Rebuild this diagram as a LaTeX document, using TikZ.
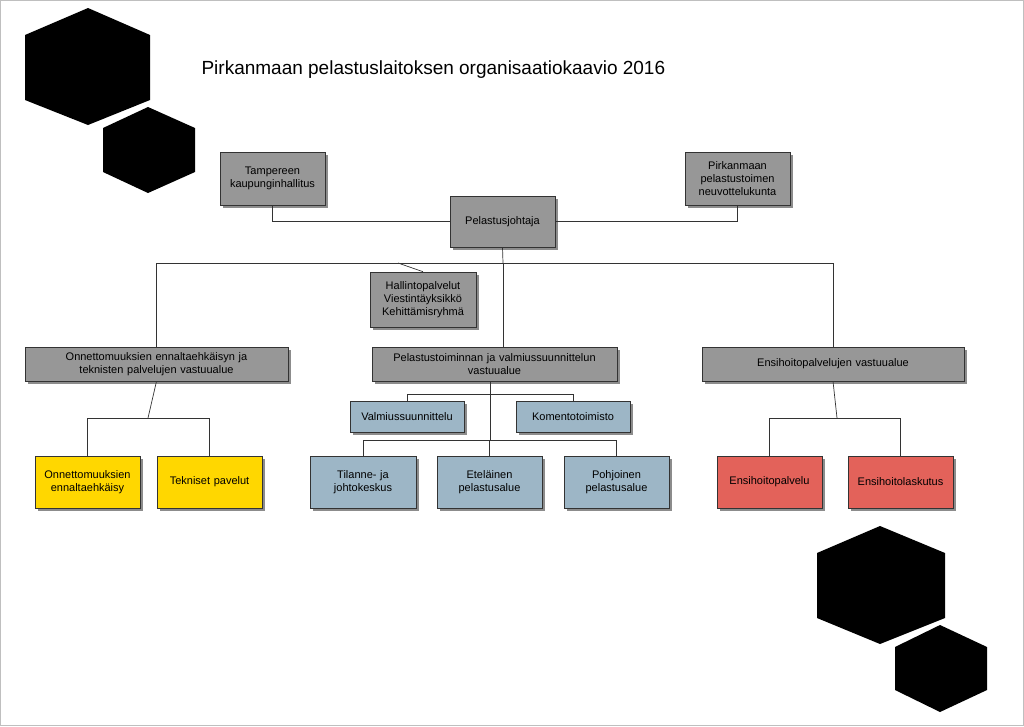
\documentclass[tikz,border=0pt]{standalone}
\usepackage{fontspec}
\setmainfont{Liberation Sans}
\usetikzlibrary{shadows}
\definecolor{gbox}{HTML}{979797}
\definecolor{bbox}{HTML}{9DB6C6}
\definecolor{ybox}{HTML}{FFD700}
\definecolor{rbox}{HTML}{E3625A}
\begin{document}
\begin{tikzpicture}[x=1pt,y=-1pt,
  bx/.style={draw=black!80,line width=0.6pt,align=center,font=\fontsize{11}{13}\selectfont,
    drop shadow={shadow xshift=3pt,shadow yshift=-3pt,fill=black!45,opacity=1},inner sep=2pt},
  ln/.style={line width=0.7pt,black!80}]
\path[use as bounding box,draw=black!25,line width=1pt] (0.5,0.5) rectangle (1023.5,725.5);
\fill[black] (88,8)--(150,35)--(150,100)--(88,125)--(25,100)--(25,35)--cycle;
\fill[black] (148,107)--(195,128)--(195,172)--(148,193)--(103,172)--(103,128)--cycle;
\fill[black] (880,526)--(945,553)--(945,618)--(880,644)--(817,618)--(817,553)--cycle;
\fill[black] (940,625)--(987,647)--(987,690)--(940,712)--(895,690)--(895,647)--cycle;
\node[anchor=west,font=\fontsize{19}{22}\selectfont] (title) at (198,70) {Pirkanmaan pelastuslaitoksen organisaatiokaavio 2016};
\newcommand{\bx}[7]{\node[bx,fill=#2,minimum width=#5-#3,minimum height=#6-#4,text width=#5-#3-6] (#1) at ({(#3+#5)/2},{(#4+#6)/2}) {#7};}
\bx{tku}{gbox}{220}{152}{325}{205}{Tampereen\\kaupunginhallitus}
\bx{pnk}{gbox}{685}{152}{790}{205}{Pirkanmaan\\pelastustoimen\\neuvottelukunta}
\bx{pj}{gbox}{450}{196}{555}{247}{Pelastusjohtaja}
\bx{hal}{gbox}{370}{272}{476}{327}{Hallintopalvelut\\Viestintäyksikkö\\Kehittämisryhmä}
\bx{onn}{gbox}{25}{347}{288}{381}{Onnettomuuksien ennaltaehkäisyn ja\\teknisten palvelujen vastuualue}
\bx{pel}{gbox}{372}{347}{617}{381}{Pelastustoiminnan ja valmiussuunnittelun\\vastuualue}
\bx{ens}{gbox}{702}{347}{964}{381}{Ensihoitopalvelujen vastuualue}
\bx{val}{bbox}{350}{401}{464}{432}{Valmiussuunnittelu}
\bx{kom}{bbox}{516}{401}{630}{432}{Komentotoimisto}
\bx{til}{bbox}{310}{456}{416}{508}{Tilanne- ja\\johtokeskus}
\bx{ete}{bbox}{437}{456}{542}{508}{Eteläinen\\pelastusalue}
\bx{poh}{bbox}{564}{456}{669}{508}{Pohjoinen\\pelastusalue}
\bx{oe}{ybox}{35}{456}{140}{508}{Onnettomuuksien\\ennaltaehkäisy}
\bx{tek}{ybox}{157}{456}{262}{508}{Tekniset pavelut}
\bx{eh}{rbox}{717}{456}{822}{508}{Ensihoitopalvelu}
\bx{el}{rbox}{848}{456}{953}{508}{Ensihoitolaskutus}
\draw[ln] (tku.south) |- (pj.west);
\draw[ln] (pnk.south) |- (pj.east);
\draw[ln] (pj.south) -- (503,263);
\draw[ln] (onn.north) |- (ens.north |- 0,263) -- (ens.north);
\draw[ln] (503,263) -- (503,347);
\draw[ln] (hal.north) -- (398,263);
\draw[ln] (onn.south) -- (148,418);
\draw[ln] (oe.north) |- (tek.north |- 0,418) -- (tek.north);
\draw[ln] (490,381) -- (490,440);
\draw[ln] (val.north) |- (kom.north |- 0,394) -- (kom.north);
\draw[ln] (til.north) |- (poh.north |- 0,440) -- (poh.north);
\draw[ln] (ete.north) -- (ete.north |- 0,440);
\draw[ln] (ens.south) -- (837,418);
\draw[ln] (eh.north) |- (el.north |- 0,418) -- (el.north);
\end{tikzpicture}
\end{document}
